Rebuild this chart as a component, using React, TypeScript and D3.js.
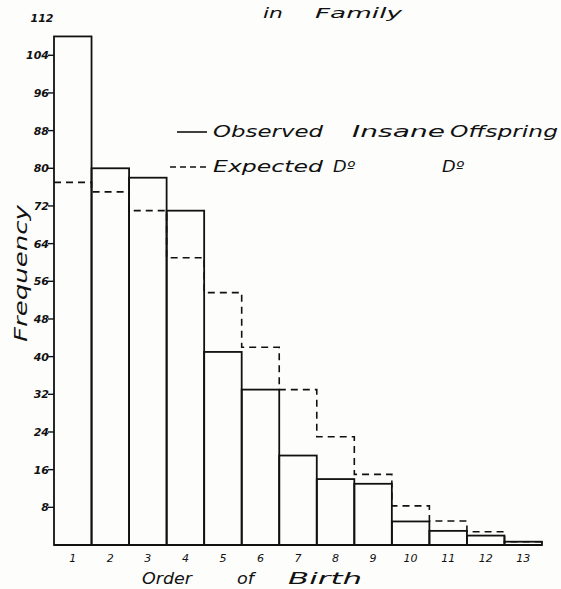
import React from "react";
import * as d3 from "d3";

const birthOrder = ["1", "2", "3", "4", "5", "6", "7", "8", "9", "10", "11", "12", "13"];
const observed = [108, 80, 78, 71, 41, 33, 19, 14, 13, 5, 3, 2, 0.7];
const expected = [77, 75, 71, 61, 53.6, 42, 33, 23, 15, 8.3, 5.1, 2.8, 0.7];
const yTicks = [8, 16, 24, 32, 40, 48, 56, 64, 72, 80, 88, 96, 104];
const yTopLabel = "112";

const W = 561;
const H = 589;
const FONT = "'DejaVu Sans', sans-serif";

export default function App() {
  const x = d3.scaleBand<string>().domain(birthOrder).range([54, 542]).padding(0);
  const y = d3.scaleLinear().domain([0, 112]).range([545, 17.6]);
  const bw = x.bandwidth();

  const stepPts: [number, number][] = [];
  birthOrder.forEach((c, i) => {
    const x0 = x(c)!;
    stepPts.push([x0, y(expected[i])]);
    stepPts.push([x0 + bw, y(expected[i])]);
  });
  const last = birthOrder[birthOrder.length - 1];
  stepPts.push([x(last)! + bw, y(0)]);
  const stepLine = d3.line<[number, number]>()(stepPts) || "";

  const txt = { fontFamily: FONT, fontStyle: "italic", fill: "#111", lengthAdjust: "spacingAndGlyphs" } as const;

  return (
    <svg width={W} height={H} style={{ position: "absolute", left: 0, top: 0, background: "#fff" }}>
      <rect x={0} y={0} width={W} height={H} fill="#fdfdfb" />
      {/* title fragment */}
      <text x={263} y={18} fontSize={14} textLength={20} {...txt}>
        in
      </text>
      <text x={315} y={18} fontSize={14} textLength={87} {...txt}>
        Family
      </text>

      {/* expected dashed outline */}
      <path d={stepLine} fill="none" stroke="#111" strokeWidth={1.6} strokeDasharray="7,5" />

      {/* observed bars */}
      {birthOrder.map((c, i) => (
        <rect
          key={c}
          x={x(c)!}
          y={y(observed[i])}
          width={bw}
          height={y(0) - y(observed[i])}
          fill="none"
          stroke="#111"
          strokeWidth={1.8}
        />
      ))}
      <line x1={x("1")!} x2={x(last)! + bw} y1={y(0)} y2={y(0)} stroke="#111" strokeWidth={1.8} />

      {/* y axis ticks */}
      {yTicks.map((t) => (
        <g key={t}>
          <line x1={x("1")! - 6} x2={x("1")!} y1={y(t)} y2={y(t)} stroke="#111" strokeWidth={1.4} />
          <text x={x("1")! - 5} y={y(t) + 4} fontWeight="bold" fontSize={11} textAnchor="end"
            fontFamily={FONT} fontStyle="italic" fill="#111">
            {t}
          </text>
        </g>
      ))}
      <text x={42} y={y(112) + 4} fontWeight="bold" fontSize={11} textAnchor="middle"
        fontFamily={FONT} fontStyle="italic" fill="#111">
        {yTopLabel}
      </text>

      {/* x tick labels */}
      {birthOrder.map((c) => (
        <text key={c} x={x(c)! + bw / 2} y={562} fontSize={11} textAnchor="middle"
          fontFamily={FONT} fontStyle="italic" fill="#111">
          {c}
        </text>
      ))}

      {/* axis titles */}
      <text x={142} y={584} fontSize={15} textLength={50} {...txt}>Order</text>
      <text x={237} y={584} fontSize={15} textLength={17} {...txt}>of</text>
      <text x={288} y={584} fontSize={15} textLength={74} {...txt}>Birth</text>
      <text transform="translate(27,342) rotate(-90)" fontSize={18} textLength={137} {...txt}>
        Frequency
      </text>

      {/* legend */}
      <line x1={177} x2={207} y1={132} y2={132} stroke="#111" strokeWidth={1.6} />
      <text x={213} y={137} fontSize={15} textLength={110} {...txt}>Observed</text>
      <text x={352} y={137} fontSize={15} textLength={93} {...txt}>Insane</text>
      <text x={450} y={137} fontSize={15} textLength={108} {...txt}>Offspring</text>
      <line x1={170} x2={207} y1={167} y2={167} stroke="#111" strokeWidth={1.6} strokeDasharray="6,4" />
      <text x={213} y={172} fontSize={15} textLength={110} {...txt}>Expected</text>
      <text x={333} y={172} fontSize={15} textLength={22} {...txt}>Dº</text>
      <text x={442} y={172} fontSize={15} textLength={22} {...txt}>Dº</text>
    </svg>
  );
}
